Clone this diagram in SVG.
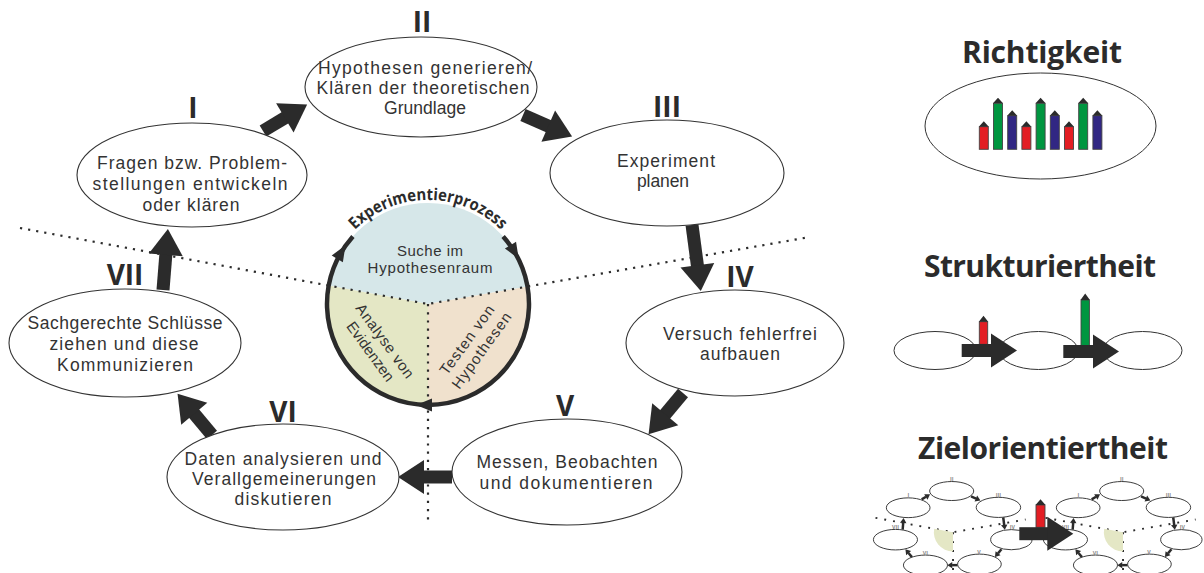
<svg xmlns="http://www.w3.org/2000/svg" xmlns:xlink="http://www.w3.org/1999/xlink" width="1204" height="573" viewBox="0 0 1204 573">
<style>
.node ellipse{fill:#fff;stroke:#333;stroke-width:1.1}
.lbl{font-family:"Liberation Sans",Arial,sans-serif;font-size:17.5px;fill:#333;text-anchor:middle}
.num{font-family:"Open Sans","Liberation Sans",sans-serif;font-weight:700;font-size:28px;fill:#2b2b2b;text-anchor:middle}
.title{font-family:"Open Sans","Liberation Sans",sans-serif;font-weight:700;font-size:30px;fill:#2b2b2b;text-anchor:middle}
.arr{stroke:#2b2b2b;stroke-width:13;fill:none;marker-end:url(#ah)}
.dot{stroke:#2b2b2b;stroke-width:2.2;stroke-dasharray:2.2 6;fill:none}
.sec{font-family:"Liberation Sans",Arial,sans-serif;font-size:15px;fill:#333;text-anchor:middle}
.mell{fill:#fff;stroke:#333;stroke-width:5}
.mdot{stroke:#2b2b2b;stroke-width:10;stroke-dasharray:10 37;fill:none}
.mnum{font-family:"Open Sans","Liberation Sans",sans-serif;font-weight:700;font-size:28px;fill:#888;text-anchor:middle}
.red{fill:#e31e24}.green{fill:#009640}.blue{fill:#312783}
.bar rect{stroke:#444;stroke-width:0.9}
.cap{fill:#2b2b2b}
.sm{fill:#fff;stroke:#333;stroke-width:1}
</style>
<defs>
<marker id="ah" markerUnits="userSpaceOnUse" markerWidth="27" markerHeight="35" refX="1" refY="17" orient="auto" overflow="visible">
<path d="M0,0 L26,17 L0,34 Z" fill="#2b2b2b"/>
</marker>
<path id="carrow" d="M8,0 L-8,-6.5 L-8,6.5 Z" fill="#2b2b2b"/>
<path id="txtarc" d="M342.8,244.3 A104,104 0 0 1 513.2,244.3" fill="none"/>
<g id="mini">
<path class="mdot" d="M20,228 L428,304 L810,237"/>
<path class="mdot" d="M428,304 L428,525"/>
<path d="M428,304 L428,405 A101,101 0 0 1 328.7,285.5 Z" fill="#e4e7c5"/>
<line class="arr" x1="263" y1="131" x2="285.7" y2="117.4"/>
<line class="arr" x1="523" y1="115" x2="549.2" y2="126.5"/>
<line class="arr" x1="692" y1="225" x2="697.5" y2="266.2"/>
<line class="arr" x1="683" y1="393" x2="664.6" y2="415"/>
<line class="arr" x1="452" y1="477" x2="423" y2="477"/>
<line class="arr" x1="212" y1="435" x2="193.6" y2="413"/>
<line class="arr" x1="163" y1="290" x2="165.9" y2="253.9"/>
<ellipse class="mell" cx="192" cy="175" rx="115" ry="52"/>
<ellipse class="mell" cx="421" cy="87" rx="116" ry="50"/>
<ellipse class="mell" cx="667" cy="173" rx="117" ry="53"/>
<ellipse class="mell" cx="735" cy="343" rx="109" ry="53"/>
<ellipse class="mell" cx="567" cy="472" rx="115" ry="53"/>
<ellipse class="mell" cx="283" cy="477" rx="116" ry="53"/>
<ellipse class="mell" cx="125" cy="343" rx="116" ry="54"/>
<text class="mnum" x="193" y="118">I</text>
<text class="mnum" x="422" y="32">II</text>
<text class="mnum" x="667" y="117">III</text>
<text class="mnum" x="740" y="287">IV</text>
<text class="mnum" x="565" y="416">V</text>
<text class="mnum" x="283" y="422">VI</text>
<text class="mnum" x="125" y="285">VII</text>
</g>
</defs>

<g id="process-circle">
<path d="M428,304 L328.7,285.5 A101,101 0 0 1 527.5,286.5 Z" fill="#d6e7e9"/>
<path d="M428,304 L527.5,286.5 A101,101 0 0 1 428,405 Z" fill="#f0e1cd"/>
<path d="M428,304 L428,405 A101,101 0 0 1 328.7,285.5 Z" fill="#e4e7c5"/>
</g>

<g id="dividers">
<path class="dot" d="M20,228 L428,304 L810,237"/>
<path class="dot" d="M428,304 L428,525"/>
</g>

<g id="process-ring">
<path d="M503.1,236.4 A101,101 0 1 1 352.9,236.4" fill="none" stroke="#2b2b2b" stroke-width="4.5"/>
<use xlink:href="#carrow" transform="translate(341.4,252) rotate(-59)"/>
<use xlink:href="#carrow" transform="translate(514.6,252) rotate(59)"/>
<use xlink:href="#carrow" transform="translate(424,405) rotate(180)"/>
<text font-family="'Open Sans','Liberation Sans',sans-serif" font-weight="700" font-size="16.5" fill="#2b2b2b"><textPath xlink:href="#txtarc" startOffset="50%" text-anchor="middle" textLength="162" lengthAdjust="spacingAndGlyphs">Experimentierprozess</textPath></text>
<text class="sec" x="430" y="256" textLength="66">Suche im</text>
<text class="sec" x="430" y="273" textLength="125">Hypothesenraum</text>
<g transform="translate(378,346) rotate(54)">
<text class="sec" x="0" y="-3.5" textLength="88">Analyse von</text>
<text class="sec" x="0" y="14.5" textLength="70">Evidenzen</text>
</g>
<g transform="translate(474,345) rotate(-54)">
<text class="sec" x="0" y="-3.5" textLength="82">Testen von</text>
<text class="sec" x="0" y="14.5" textLength="90">Hypothesen</text>
</g>
</g>

<g id="connectors">
<line class="arr" x1="263" y1="131" x2="285.7" y2="117.4"/>
<line class="arr" x1="523" y1="115" x2="549.2" y2="126.5"/>
<line class="arr" x1="692" y1="225" x2="697.5" y2="266.2"/>
<line class="arr" x1="683" y1="393" x2="664.6" y2="415"/>
<line class="arr" x1="452" y1="477" x2="423" y2="477"/>
<line class="arr" x1="212" y1="435" x2="193.6" y2="413"/>
<line class="arr" x1="163" y1="290" x2="165.9" y2="253.9"/>
</g>

<g id="node-I" class="node">
<ellipse cx="192" cy="175" rx="115" ry="52"/>
<text class="num" x="193" y="118">I</text>
<text class="lbl" x="192" y="169" textLength="190">Fragen bzw. Problem-</text>
<text class="lbl" x="190" y="190" textLength="195">stellungen entwickeln</text>
<text class="lbl" x="191" y="211" textLength="97">oder klären</text>
</g>
<g id="node-II" class="node">
<ellipse cx="421" cy="87" rx="116" ry="50"/>
<text class="num" x="422" y="32">II</text>
<text class="lbl" x="425" y="74" textLength="214">Hypothesen generieren/</text>
<text class="lbl" x="423" y="94" textLength="213">Klären der theoretischen</text>
<text class="lbl" x="425" y="114" textLength="82">Grundlage</text>
</g>
<g id="node-III" class="node">
<ellipse cx="667" cy="173" rx="117" ry="53"/>
<text class="num" x="667" y="117">III</text>
<text class="lbl" x="666" y="167" textLength="98">Experiment</text>
<text class="lbl" x="663" y="187" textLength="52">planen</text>
</g>
<g id="node-IV" class="node">
<ellipse cx="735" cy="343" rx="109" ry="53"/>
<text class="num" x="740" y="287">IV</text>
<text class="lbl" x="740" y="340" textLength="154">Versuch fehlerfrei</text>
<text class="lbl" x="740" y="360" textLength="80">aufbauen</text>
</g>
<g id="node-V" class="node">
<ellipse cx="567" cy="472" rx="115" ry="53"/>
<text class="num" x="565" y="416">V</text>
<text class="lbl" x="567" y="468" textLength="181">Messen, Beobachten</text>
<text class="lbl" x="566" y="489" textLength="173">und dokumentieren</text>
</g>
<g id="node-VI" class="node">
<ellipse cx="283" cy="477" rx="116" ry="53"/>
<text class="num" x="283" y="422">VI</text>
<text class="lbl" x="283" y="465" textLength="197">Daten analysieren und</text>
<text class="lbl" x="284" y="485" textLength="184">Verallgemeinerungen</text>
<text class="lbl" x="283" y="505" textLength="97">diskutieren</text>
</g>
<g id="node-VII" class="node">
<ellipse cx="125" cy="343" rx="116" ry="54"/>
<text class="num" x="125" y="285">VII</text>
<text class="lbl" x="125" y="329" textLength="195">Sachgerechte Schlüsse</text>
<text class="lbl" x="124" y="350" textLength="149">ziehen und diese</text>
<text class="lbl" x="125" y="371" textLength="136">Kommunizieren</text>
</g>

<g id="richtigkeit">
<text class="title" x="1042" y="63" textLength="160">Richtigkeit</text>
<ellipse class="sm" cx="1040.5" cy="126" rx="115.5" ry="53"/>
<g class="bar">
<rect class="red" x="979.3" y="126.7" width="9" height="22.6"/>
<rect class="green" x="993.5" y="103.3" width="9" height="46"/>
<rect class="blue" x="1007.7" y="115.7" width="9" height="33.6"/>
<rect class="red" x="1021.9" y="126.7" width="9" height="22.6"/>
<rect class="green" x="1036.1" y="103.3" width="9" height="46"/>
<rect class="blue" x="1050.3" y="115.7" width="9" height="33.6"/>
<rect class="red" x="1064.5" y="126.7" width="9" height="22.6"/>
<rect class="green" x="1078.7" y="103.3" width="9" height="46"/>
<rect class="blue" x="1092.9" y="115.7" width="9" height="33.6"/>
</g>
<path class="cap" d="M978.8,126.7 l5,-5.5 l5,5.5 Z M993,103.3 l5,-5.5 l5,5.5 Z M1007.2,115.7 l5,-5.5 l5,5.5 Z M1021.4,126.7 l5,-5.5 l5,5.5 Z M1035.6,103.3 l5,-5.5 l5,5.5 Z M1049.8,115.7 l5,-5.5 l5,5.5 Z M1064,126.7 l5,-5.5 l5,5.5 Z M1078.2,103.3 l5,-5.5 l5,5.5 Z M1092.4,115.7 l5,-5.5 l5,5.5 Z"/>
</g>

<g id="strukturiertheit">
<text class="title" x="1040" y="277" textLength="232">Strukturiertheit</text>
<ellipse class="sm" cx="935" cy="350.5" rx="41" ry="19"/>
<ellipse class="sm" cx="1038.5" cy="350.5" rx="39.5" ry="19"/>
<ellipse class="sm" cx="1142.5" cy="350.5" rx="39.5" ry="19"/>
<g class="bar">
<rect class="red" x="979.3" y="321.7" width="8.4" height="22.6"/>
<rect class="green" x="1081" y="300" width="8.4" height="45.7"/>
</g>
<path class="cap" d="M978.8,321.7 l4.7,-6 l4.7,6 Z M1080.5,300 l4.7,-6.5 l4.7,6.5 Z"/>
<line class="arr" x1="961.7" y1="350.5" x2="992" y2="350.5"/>
<line class="arr" x1="1063.3" y1="351.5" x2="1094" y2="351.5"/>
</g>

<g id="zielorientiertheit">
<text class="title" x="1043" y="459" textLength="250">Zielorientiertheit</text>
<use xlink:href="#mini" transform="translate(871.7,474.5) scale(0.19)"/>
<use xlink:href="#mini" transform="translate(1041.7,474.5) scale(0.19)"/>
<g class="bar"><rect class="red" x="1036" y="505" width="9" height="22.3"/></g>
<path class="cap" d="M1035.5,505 l5,-5.7 l5,5.7 Z"/>
<line class="arr" x1="1019.3" y1="533.7" x2="1048.3" y2="533.7"/>
</g>
</svg>
